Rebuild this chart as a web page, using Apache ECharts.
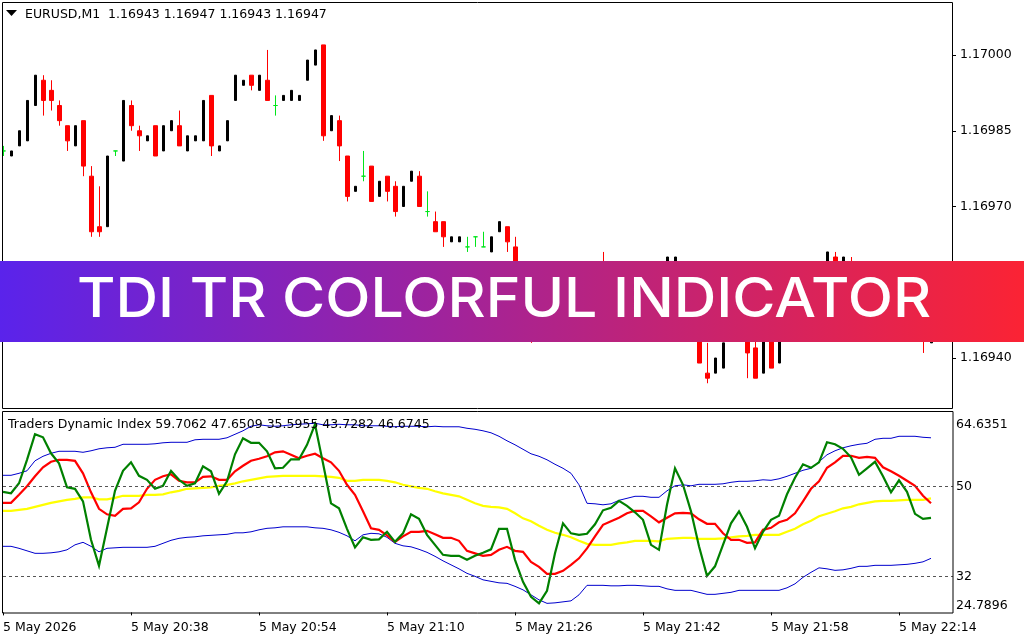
<!DOCTYPE html>
<html><head><meta charset="utf-8">
<style>html,body{margin:0;padding:0;background:#fff}#c{width:1024px;height:640px}</style>
<script src="https://cdn.jsdelivr.net/npm/echarts@6/dist/echarts.min.js"></script>
</head><body><div id="c"></div>
<script>
// Prices are kept in points (1 point = 0.00001) above this base.
const priceBase = 1.169;
const priceTicks = [40, 55, 70, 85, 100];
const bandTicks = [24.7896, 32, 50, 64.6351];
const levels = [50, 32];
const timeTicks = ['5 May 2026','5 May 20:38','5 May 20:54','5 May 21:10','5 May 21:26','5 May 21:42','5 May 21:58','5 May 22:14'];
const timeTickBars = [0,16,32,48,64,80,96,112];

const open = [81,80,82,83,90,95,93,90,86,82,87,76,66,66,81,79,90,85,83,86,81,85,86,81,83,83,92,81,83,91,94,96,93,95,90,91,91,91,95,98,102,85,87,80,73,76,78,72,76,74,70,75,76,69,67,67,63,63,62,64,62,61,65,66,62,54,50,47,50,53,49,51,56,53,55,58,52,54,50,54,56,54,55,56,57,58,51,46,37,37,38,44,46,47,42,37,49,39,48,51,54,56,57,55,60,54,58,54,49,53,50,47,50,48,45,47,43];
const close = [81,81,85,91,96,91,91,87,83,86,78,65,65,80,81,91,86,84,84,80,86,87,82,84,84,91,82,82,87,96,95,94,96,91,90,92,93,92,99,101,84,88,82,72,74,76,71,75,73,69,74,77,70,69,65,64,64,64,62,64,62,64,67,63,54,48,46,51,54,48,53,57,53,56,58,53,54,49,55,57,52,57,58,60,60,51,46,39,36,40,43,48,51,41,36,48,38,50,53,56,57,59,59,61,53,60,52,48,53,47,46,51,45,45,49,44,47];
const low = [80,80,82,83,90,88,89,86,81,82,76,64,64,66,80,79,85,81,83,80,81,85,82,81,83,83,80,81,83,91,94,93,93,91,88,91,91,91,95,98,83,85,79,71,73,75,71,72,71,68,70,75,70,68,65,62,63,63,61,62,62,61,65,61,52,46,43,47,50,48,49,51,51,53,55,52,52,48,50,54,52,54,55,56,57,49,45,39,35,37,38,44,46,36,36,37,38,39,48,51,54,56,57,55,51,54,51,47,49,46,45,47,44,44,45,41,43];
const high = [82,81,85,91,96,96,95,91,86,86,87,78,74,80,81,91,91,86,84,86,86,87,89,84,84,91,92,82,87,96,95,96,96,101,92,92,93,92,99,101,102,88,88,80,74,81,78,75,76,75,74,77,77,73,69,67,64,64,64,64,65,64,67,66,64,55,51,51,54,54,53,57,57,56,58,61,54,55,55,57,56,57,58,60,60,59,52,47,43,40,43,48,51,48,44,48,49,50,53,56,57,59,59,61,61,60,60,55,53,53,51,51,50,49,49,49,47];

const upperBand = [52.2,52.2,52.6,53.1,55.1,56.0,56.6,57.0,57.0,57.0,56.8,57.1,57.5,57.7,57.8,58.4,58.4,58.4,58.4,58.5,58.7,58.8,58.8,58.8,59.3,59.4,59.4,59.4,59.7,60.4,61.1,62.0,62.3,62.1,62.0,62.1,62.3,62.4,62.5,62.6,62.3,62.3,62.4,
62.3,62.3,62.1,62.1,62.1,62.0,61.9,62.0,62.0,62.0,61.9,62.0,61.9,61.9,61.9,61.6,61.4,61.1,60.7,60.0,59.1,58.3,57.4,56.5,56.0,55.3,54.4,53.6,52.6,50.3,46.6,46.5,46.3,46.5,47.2,47.6,48.0,48.0,47.8,47.8,49.1,50.1,
50.3,50.1,50.4,50.4,50.4,50.5,50.8,51.0,51.0,51.1,51.3,51.2,51.5,52.0,52.6,53.2,53.6,54.9,56.3,57.1,57.7,58.1,58.4,58.6,59.4,59.6,59.6,60.0,60.0,60.0,59.8,59.7];
const lowerBand = [38.0,38.0,37.6,37.1,36.6,36.6,36.7,36.9,37.3,38.3,38.8,38.0,36.9,37.6,37.7,37.8,37.8,37.8,37.8,38.0,38.6,39.2,39.6,39.8,39.9,40.1,40.2,40.3,40.4,40.7,40.7,40.9,41.3,41.6,41.7,41.9,41.9,41.9,41.9,41.7,41.6,41.3,40.8,
40.1,39.1,40.3,40.6,40.5,39.8,38.6,38.1,37.9,37.4,36.8,36.0,35.1,34.3,33.5,32.6,32.0,31.3,31.0,30.7,30.6,30.0,29.3,28.3,27.3,26.6,26.7,26.9,27.1,28.3,30.2,30.2,30.2,30.1,30.1,30.2,30.2,30.1,30.0,30.0,29.5,29.2,
29.2,29.2,28.8,28.4,28.4,28.6,28.8,29.2,29.2,29.2,29.2,29.2,29.2,29.7,30.5,31.8,32.8,33.7,33.5,33.2,33.3,33.6,34.0,34.0,34.2,34.2,34.2,34.3,34.4,34.6,34.9,35.6];
const signalLine = [45.1,45.1,45.3,45.5,45.9,46.3,46.7,47.0,47.3,47.5,47.8,47.8,47.4,47.4,47.7,48.1,48.1,48.1,48.3,48.3,48.4,48.8,49.1,49.5,49.6,49.7,49.8,50.1,50.3,50.6,51.0,51.3,51.6,51.9,52.0,52.1,52.1,52.1,52.1,52.1,52.0,51.9,51.7,
51.1,51.1,51.3,51.3,51.3,51.1,50.8,50.3,50.0,49.7,49.5,49.0,48.6,48.3,48.0,47.3,46.6,46.1,45.9,45.8,45.5,44.6,43.6,43.0,42.1,41.3,40.7,40.3,39.8,39.1,38.5,38.3,38.3,38.3,38.6,38.8,39.1,39.1,39.1,39.0,39.5,39.6,
39.7,39.7,39.5,39.5,39.5,39.6,39.8,40.0,40.1,40.3,40.3,40.3,40.3,40.9,41.5,42.4,43.1,44.0,44.5,45.0,45.6,45.9,46.4,46.7,47.0,47.1,47.1,47.2,47.3,47.3,47.3,47.6];
const fastLine = [48.9,48.6,50.6,55.3,60.4,59.8,56.6,54.6,49.8,49.5,47.0,39.3,34.1,41.6,49.1,53.1,54.8,52.1,51.3,49.5,50.1,53.1,51.3,50.1,50.6,54.0,53.0,48.5,51.0,56.4,59.6,58.7,58.7,57.0,53.6,53.7,55.4,55.4,58.3,62.4,54.6,46.6,45.6,
41.5,37.8,39.8,39.3,39.4,40.9,38.9,40.6,44.4,43.5,40.3,38.3,36.3,36.1,36.1,35.3,36.1,36.7,37.4,41.5,41.5,35.3,30.9,27.9,26.6,29.1,36.6,42.6,40.6,40.3,40.5,42.4,45.2,45.7,47.1,46.1,44.8,43.3,38.3,37.3,46.3,53.6,
50.3,45.0,38.0,32.1,34.0,38.3,42.6,45.0,41.9,37.6,40.9,43.3,44.1,48.4,51.7,54.4,53.7,54.8,58.8,58.4,57.5,55.8,52.3,53.6,54.9,52.0,48.8,51.2,48.9,44.5,43.5,43.7];
const slowLine = [46.7,46.7,48.3,50.0,52.0,53.8,54.9,55.3,55.3,55.1,52.6,48.8,45.5,44.4,44.1,45.5,45.6,46.8,49.5,51.3,52.0,52.4,51.1,50.8,50.8,51.9,52.0,51.3,51.3,53.0,54.1,55.1,55.5,56.0,56.8,57.0,56.3,55.6,56.1,56.5,55.6,54.8,53.1,
50.3,48.3,45.0,41.6,41.3,40.2,38.9,40.0,40.9,40.9,41.1,40.4,39.7,39.7,39.1,37.1,36.6,36.1,36.3,37.3,37.9,37.1,36.9,34.9,33.9,32.5,32.5,33.1,34.3,35.6,37.6,40.0,42.3,43.0,43.7,44.6,45.1,45.1,44.0,42.8,43.7,44.6,
44.7,44.6,43.4,42.5,42.5,40.6,39.3,39.3,38.7,38.8,41.3,41.7,42.8,43.3,44.6,47.0,49.5,51.0,53.7,54.8,56.1,56.1,55.7,55.9,55.7,53.8,53.0,52.1,51.1,50.1,48.1,46.6];

const UI = 'DejaVu Sans';
const FS = 12.5;
const slots = 119; // bar slots on the upper pane's category axis (8 px each)
const pad = Array.from({length: slots}, (_, i) => i);
const empty = ['-','-','-','-'];
const pick = f => pad.map(i => (i < open.length && f(i)) ? [open[i], close[i], low[i], high[i]] : empty);
const redBars = pick(i => close[i] < open[i]);
const blackBars = pick(i => close[i] > open[i]);
const greenBars = pick(i => close[i] === open[i]);
const pts = a => a.map((v, i) => [i, v]);
const line = (name, data, color, width) => ({name, type:'line', xAxisIndex:1, yAxisIndex:1, data:pts(data), showSymbol:false, symbol:'none', smooth:false, animation:false, clip:true, lineStyle:{color, width, cap:'butt', join:'miter'}});
const candle = (name, data, color, barWidth) => ({name, type:'candlestick', xAxisIndex:0, yAxisIndex:0, data, barWidth, animation:false, clip:false,
  itemStyle:{color, color0:color, borderColor:color, borderColor0:color, borderColorDoji:color, borderWidth:1}});

const option = {
  animation:false, backgroundColor:'#fff', textStyle:{fontFamily:UI},
  title:[
    {text:'EURUSD,M1  1.16943 1.16947 1.16943 1.16947', left:25, top:8.5, padding:0, textStyle:{fontFamily:UI, fontSize:FS, fontWeight:'normal', color:'#000'}},
    {text:'Traders Dynamic Index 59.7062 47.6509 35.5955 43.7282 46.6745', left:8, top:418.5, padding:0, textStyle:{fontFamily:UI, fontSize:FS, fontWeight:'normal', color:'#000'}}
  ],
  grid:[
    {left:3.9, top:4.5, width:944, height:404},
    {left:3, top:413.1, width:950, height:199.3}
  ],
  xAxis:[
    {gridIndex:0, type:'category', data:pad, boundaryGap:false, show:false},
    {gridIndex:1, type:'value', min:0, max:118.75, splitLine:{show:false}, axisLine:{show:false},
     axisTick:{show:true, length:3, customValues:timeTickBars, lineStyle:{color:'#000'}},
     axisLabel:{customValues:timeTickBars, align:'left', margin:9, fontFamily:UI, fontSize:FS, color:'#000',
       formatter:v => timeTicks[timeTickBars.indexOf(v)] || ''}}
  ],
  yAxis:[
    {gridIndex:0, type:'value', position:'right', offset:5.1, min:30, max:110, scale:true, splitLine:{show:false},
     axisLine:{show:false}, axisTick:{show:true, length:3, customValues:priceTicks, lineStyle:{color:'#000'}},
     axisLabel:{customValues:priceTicks, margin:7, padding:[5,0,0,0], fontFamily:UI, fontSize:FS, color:'#000',
       formatter:v => (priceBase + v/100000).toFixed(5)}},
    {gridIndex:1, type:'value', position:'right', min:24.7896, max:64.6351, scale:true, splitLine:{show:false},
     axisLine:{show:false}, axisTick:{show:false},
     axisLabel:{customValues:bandTicks, margin:3, padding:[5,0,0,0], fontFamily:UI, fontSize:FS, color:'#000',
       verticalAlignMinLabel:'bottom', verticalAlignMaxLabel:'top',
       formatter:v => (v === 50 || v === 32) ? String(v) : v.toFixed(4)}}
  ],
  series:[
    candle('Bear', redBars, '#ff0000', 4.5),
    candle('Bull', blackBars, '#000000', 2.5),
    candle('Doji', greenBars, '#00e61a', 4.5),
    {...line('Upper band', upperBand, '#0000cd', 1),
      markLine:{silent:true, symbol:'none', animation:false, label:{show:false}, lineStyle:{color:'#555', type:[3,3], width:1},
        data:levels.map(v => ({yAxis:v}))}},
    line('Lower band', lowerBand, '#0000cd', 1),
    line('Signal', signalLine, '#ffff00', 2.2),
    line('Slow', slowLine, '#ff0000', 2.2),
    line('Fast', fastLine, '#008000', 2.2)
  ],
  graphic:[
    {type:'rect', silent:true, z:40, shape:{x:0,y:0,width:2,height:410}, style:{fill:'#fff'}},
    {type:'rect', silent:true, z:50, shape:{x:2.5,y:2.5,width:950,height:406}, style:{fill:'none',stroke:'#000',lineWidth:1}},
    {type:'rect', silent:true, z:50, shape:{x:2.5,y:411.5,width:950.5,height:201.5}, style:{fill:'none',stroke:'#000',lineWidth:1}},
    {type:'polygon', silent:true, z:50, shape:{points:[[6,10],[17,10],[11.5,16]]}, style:{fill:'#000'}},
    {type:'rect', silent:true, z:100, shape:{x:0,y:261,width:1024,height:81},
      style:{fill:{type:'linear',x:0,y:0,x2:1,y2:0,colorStops:[{offset:0,color:'#5a23eb'},{offset:1,color:'#fb2334'}]}}},
    {type:'text', silent:true, z:101, x:504, y:300, scaleX:1.072, style:{text:'TDI TR COLORFUL INDICATOR', fill:'#fff', font:'500 55px Inter', textAlign:'center', textVerticalAlign:'middle'}}
  ]
};
const chart = echarts.init(document.getElementById('c'), null, {renderer:'canvas'});
chart.setOption(option);
</script></body></html>
